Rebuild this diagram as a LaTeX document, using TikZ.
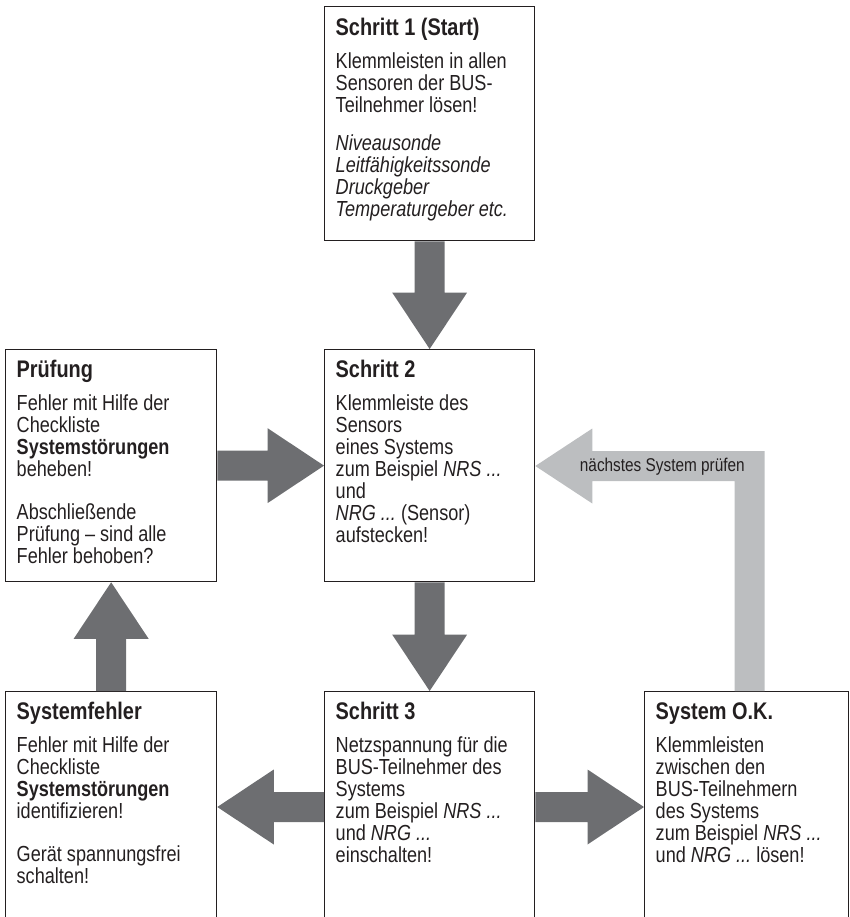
\documentclass[tikz,border=0pt]{standalone}
\usepackage{fontspec}
\setmainfont{Liberation Sans}[FakeStretch=0.83]
\usetikzlibrary{calc}
\frenchspacing
\definecolor{ink}{HTML}{231F20}
\definecolor{darkarrow}{HTML}{6D6E71}
\definecolor{lightarrow}{HTML}{BCBEC0}
\newcommand\bxhead[1]{{\fontsize{24}{24}\selectfont\bfseries #1\par}\vspace{11pt}}
\newcommand\bxgap[1][21pt]{\par\vspace{#1}}
\newcommand\bxbody{\fontsize{21.8}{22}\selectfont\raggedright\frenchspacing}
\newcommand\fatarrow[3]{%
  \coordinate (fa-s) at (#2);
  \coordinate (fa-t) at (#3);
  \coordinate (fa-h) at ($(fa-t)!56.5pt!(fa-s)$);
  \fill[#1] ($(fa-s)!15pt!90:(fa-t)$) -- ($(fa-h)!15pt!-90:(fa-s)$)
    -- ($(fa-h)!37.5pt!-90:(fa-s)$) -- (fa-t) -- ($(fa-h)!37.5pt!90:(fa-s)$)
    -- ($(fa-h)!15pt!90:(fa-s)$) -- ($(fa-s)!15pt!-90:(fa-t)$) -- cycle;}
\tikzset{
  stepbox/.style={draw=ink, line width=1.3pt, anchor=north west, inner sep=0pt, minimum width=210pt},
  bxtext/.style={anchor=base west, inner sep=0pt, text=ink},
}
\begin{document}
\begin{tikzpicture}[x=1pt,y=-1pt]
\useasboundingbox (0,0) rectangle (849,917);
\clip (0,0) rectangle (849,917);
% boxes
\node[stepbox, minimum height=234pt] (s1) at (324,6) {};
\node[stepbox, minimum height=232pt] (s2) at (324,349) {};
\node[stepbox, minimum width=211pt, minimum height=232pt] (pr) at (5,349) {};
\node[stepbox, minimum width=211pt, minimum height=260pt] (sf) at (5,691) {};
\node[stepbox, minimum height=260pt] (s3) at (324,691) {};
\node[stepbox, minimum width=204pt, minimum height=260pt] (ok) at (644,691) {};
\coordinate (row) at (0,807);
\coordinate (bend) at (749.5,466);
% arrows
\fatarrow{darkarrow}{s1.south}{s2.north}
\fatarrow{darkarrow}{pr.east}{s2.west}
\fatarrow{darkarrow}{s2.south}{s3.north}
\fatarrow{darkarrow}{sf.north}{pr.south}
\fatarrow{darkarrow}{s3.west |- row}{sf.east |- row}
\fatarrow{darkarrow}{s3.east |- row}{ok.west |- row}
\fill[lightarrow] ($(bend |- ok.north)+(15,0)$) -- ($(bend)+(15,-15)$)
  -- ($(s2.east |- bend)+(57,-15)$) -- ($(s2.east |- bend)+(57,-37.5)$)
  -- (s2.east |- bend) -- ($(s2.east |- bend)+(57,37.5)$)
  -- ($(s2.east |- bend)+(57,15)$) -- ($(bend)+(-15,15)$)
  -- ($(bend |- ok.north)+(-15,0)$) -- cycle;
\node[anchor=base, inner sep=0pt, text=ink, font=\fontsize{18.5}{18.5}\selectfont] (next) at ($(s2.east |- bend)+(127,5)$) {nächstes System prüfen};
% texts
\node[bxtext] (s1t) at ($(s1.north west)+(11.5,30)$) {\parbox[t]{198pt}{\bxbody
  \bxhead{Schritt 1 (Start)}
  Klemmleisten in allen\\ Sensoren der BUS-\\ Teilnehmer lösen!\bxgap[16pt]
  \textit{Niveausonde\\ Leitfähigkeitssonde\\ Druckgeber\\ Temperaturgeber etc.}}};
\node[bxtext] (s2t) at ($(s2.north west)+(11.5,28)$) {\parbox[t]{198pt}{\bxbody
  \bxhead{Schritt 2}
  Klemmleiste des\\ Sensors\\ eines Systems\\ zum Beispiel \textit{NRS ...}\\ und\\ \textit{NRG ...} (Sensor)\\ aufstecken!}};
\node[bxtext] (prt) at ($(pr.north west)+(11.5,28)$) {\parbox[t]{198pt}{\bxbody
  \bxhead{Prüfung}
  Fehler mit Hilfe der\\ Checkliste\\ \textbf{Systemstörungen}\\ beheben!\bxgap
  Abschließende\\ Prüfung -- sind alle\\ Fehler behoben?}};
\node[bxtext] (sft) at ($(sf.north west)+(11.5,28)$) {\parbox[t]{198pt}{\bxbody
  \bxhead{Systemfehler}
  Fehler mit Hilfe der\\ Checkliste\\ \textbf{Systemstörungen}\\ identifizieren!\bxgap
  Gerät spannungsfrei\\ schalten!}};
\node[bxtext] (s3t) at ($(s3.north west)+(11.5,28)$) {\parbox[t]{198pt}{\bxbody
  \bxhead{Schritt 3}
  Netzspannung für die\\ BUS-Teilnehmer des\\ Systems\\ zum Beispiel \textit{NRS ...}\\ und \textit{NRG ...}\\ einschalten!}};
\node[bxtext] (okt) at ($(ok.north west)+(11.5,28)$) {\parbox[t]{190pt}{\bxbody
  \bxhead{System O.K.}
  Klemmleisten\\ zwischen den\\ BUS-Teilnehmern\\ des Systems\\ zum Beispiel \textit{NRS ...}\\ und \textit{NRG ...} lösen!}};
\end{tikzpicture}
\end{document}
